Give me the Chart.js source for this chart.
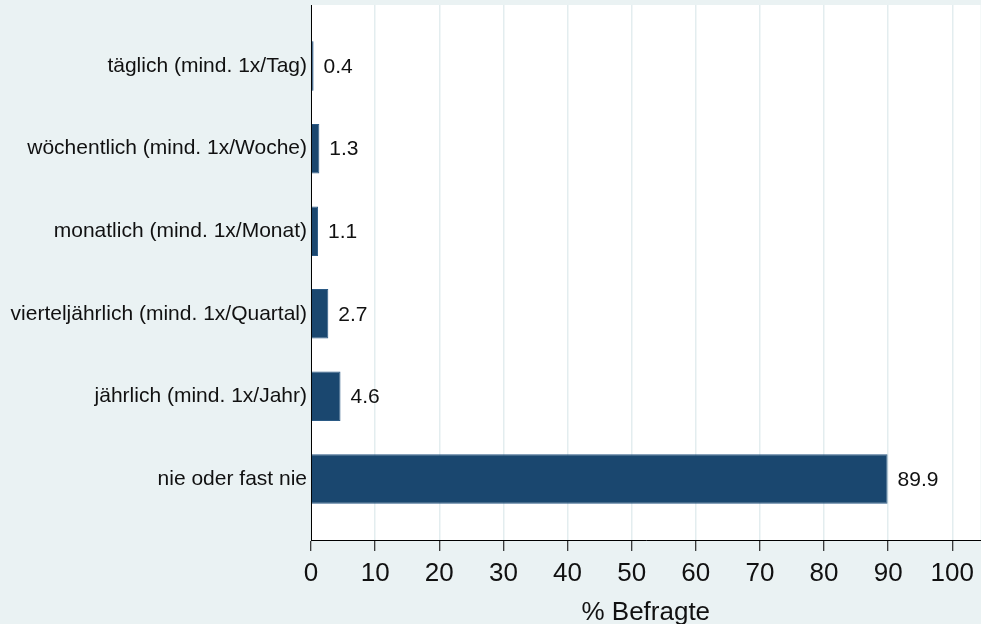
<!DOCTYPE html>
<html>
<head>
<meta charset="utf-8">
<title>Häufigkeit</title>
<script src="https://cdn.jsdelivr.net/npm/chart.js"></script>
<style>
  html, body { margin: 0; padding: 0; background: #eaf2f3; }
  #wrap { width: 981px; height: 624px; }
</style>
</head>
<body>
<div id="wrap"><canvas id="chart" width="981" height="624"></canvas></div>
<script>
    // Kategorien und Werte (% Befragte)
    const categories = [
        'täglich (mind. 1x/Tag)',
        'wöchentlich (mind. 1x/Woche)',
        'monatlich (mind. 1x/Monat)',
        'vierteljährlich (mind. 1x/Quartal)',
        'jährlich (mind. 1x/Jahr)',
        'nie oder fast nie'
    ];
    const values = [0.4, 1.3, 1.1, 2.7, 4.6, 89.9];
    const xTicks = [0, 10, 20, 30, 40, 50, 60, 70, 80, 90, 100];

    const FONT = "'Liberation Sans', Arial, sans-serif";

    // Hintergrund + weisse Plotfläche
    const background = {
        id: 'background',
        beforeDraw(chart) {
            const { ctx, chartArea: a } = chart;
            ctx.save();
            ctx.fillStyle = '#eaf2f3';
            ctx.fillRect(0, 0, chart.width, chart.height);
            ctx.fillStyle = '#ffffff';
            ctx.fillRect(a.left, a.top, a.right - a.left, a.bottom - a.top);
            ctx.restore();
        }
    };

    // Werte rechts neben den Balken
    const valueLabels = {
        id: 'valueLabels',
        afterDatasetsDraw(chart) {
            const { ctx } = chart;
            const meta = chart.getDatasetMeta(0);
            ctx.save();
            ctx.font = '21px ' + FONT;
            ctx.fillStyle = '#111';
            ctx.textAlign = 'left';
            ctx.textBaseline = 'middle';
            meta.data.forEach((bar, i) => {
                ctx.fillText(values[i].toFixed(1), bar.x + 10, bar.y + 1);
            });
            ctx.restore();
        }
    };

    new Chart(document.getElementById('chart'), {
        type: 'bar',
        data: {
            datasets: [{
                data: values.map((v, i) => ({ x: v, y: i })),
                backgroundColor: '#1a476f',
                borderColor: '#2b5a85',
                borderWidth: 1,
                barPercentage: 0.6,
                categoryPercentage: 1
            }]
        },
        options: {
            indexAxis: 'y',
            responsive: false,
            animation: false,
            layout: { padding: { top: 5, right: 0, left: 0, bottom: 0 } },
            scales: {
                y: {
                    type: 'linear',
                    reverse: true,
                    offset: false,
                    min: -0.74,
                    max: 5.74,
                    afterBuildTicks: scale => {
                        scale.ticks = categories.map((c, i) => ({ value: i }));
                    },
                    afterFit: scale => {
                        scale.width = 311;
                        scale.paddingTop = 0;
                        scale.paddingBottom = 0;
                    },
                    grid: { display: false, drawTicks: false, offset: false },
                    border: { color: '#000', width: 1 },
                    ticks: {
                        autoSkip: false,
                        padding: 4,
                        color: '#111',
                        font: { family: FONT, size: 21 },
                        callback: v => categories[v]
                    }
                },
                x: {
                    type: 'linear',
                    min: 0,
                    max: 104.4,
                    afterBuildTicks: scale => {
                        scale.ticks = xTicks.map(v => ({ value: v }));
                    },
                    afterFit: scale => { scale.height = 84; },
                    grid: {
                        color: '#e3edef',
                        lineWidth: 1.5,
                        tickColor: '#000',
                        tickLength: 11,
                        tickWidth: 1
                    },
                    border: { color: '#000', width: 1 },
                    ticks: {
                        maxRotation: 0,
                        padding: 7,
                        color: '#111',
                        font: { family: FONT, size: 26 }
                    },
                    title: {
                        display: true,
                        text: '% Befragte',
                        color: '#111',
                        font: { family: FONT, size: 26 },
                        padding: { top: 1, bottom: -4 }
                    }
                }
            },
            plugins: {
                legend: { display: false },
                tooltip: { enabled: false }
            }
        },
        plugins: [background, valueLabels]
    });
</script>
</body>
</html>
